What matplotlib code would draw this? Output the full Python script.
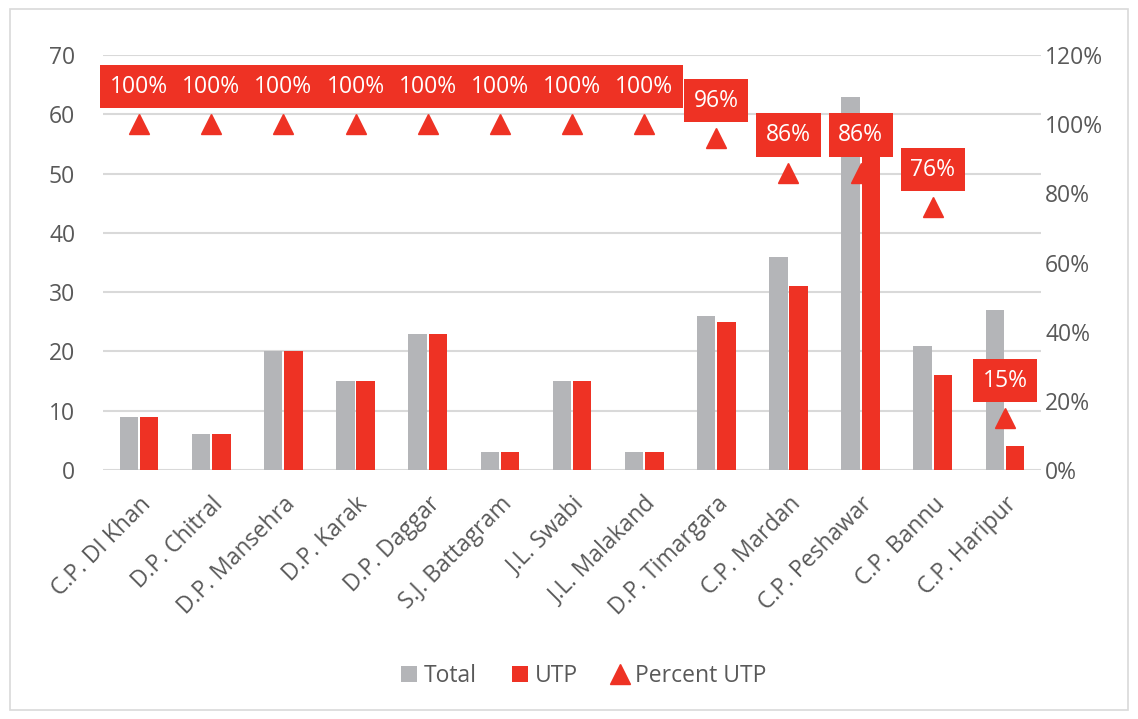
import matplotlib
matplotlib.use('Agg')
import matplotlib.pyplot as plt
import numpy as np
from matplotlib.patches import Patch, Rectangle
from matplotlib.lines import Line2D

plt.rcParams['font.family'] = ['Open Sans', 'DejaVu Sans']

# data
categories = ['C.P. DI Khan', 'D.P. Chitral', 'D.P. Mansehra', 'D.P. Karak',
              'D.P. Daggar', 'S.J. Battagram', 'J.L. Swabi', 'J.L. Malakand',
              'D.P. Timargara', 'C.P. Mardan', 'C.P. Peshawar', 'C.P. Bannu',
              'C.P. Haripur']
total = [9, 6, 20, 15, 23, 3, 15, 3, 26, 36, 63, 21, 27]
utp = [9, 6, 20, 15, 23, 3, 15, 3, 25, 31, 54, 16, 4]
pct_utp = [1.00, 1.00, 1.00, 1.00, 1.00, 1.00, 1.00, 1.00, 0.96, 0.86, 0.86, 0.76, 0.15]

grey = '#b4b5b8'
red = '#ee3224'
txt = '#595959'
grid_c = '#d9d9d9'
fs = 16.5

fig = plt.figure(figsize=(11.38, 7.19), dpi=100)
fig.patches.append(Rectangle((0.009, 0.012), 0.982, 0.975, transform=fig.transFigure,
                             fill=False, edgecolor=grid_c, linewidth=1.2))

ax = fig.add_axes([0.0905, 0.3463, 0.8243, 0.5772])
ax2 = ax.twinx()

x = np.arange(len(categories))
w = 0.255
ax.bar(x - w / 2 - 0.013, total, width=w, color=grey, zorder=2)
ax.bar(x + w / 2 + 0.013, utp, width=w, color=red, zorder=2)

ax.set_xlim(-0.5, len(categories) - 0.5)
ax.set_ylim(0, 70)
ax.set_yticks(range(0, 71, 10))
ax.yaxis.grid(True, color=grid_c, linewidth=1.5, zorder=0)
ax.set_axisbelow(True)
for s in ax.spines.values():
    s.set_visible(False)
for s in ax2.spines.values():
    s.set_visible(False)
ax.tick_params(axis='both', length=0, labelsize=fs, labelcolor=txt)
ax.tick_params(axis='y', pad=20)
ax.tick_params(axis='x', pad=16)
ax.set_xticks(x)
ax.set_xticklabels(categories, rotation=45, ha='right', rotation_mode='anchor')

ax2.set_ylim(0, 1.2)
ax2.set_yticks(np.arange(0, 1.21, 0.2))
ax2.set_yticklabels([f'{int(round(v * 100))}%' for v in np.arange(0, 1.21, 0.2)])
ax2.tick_params(axis='y', length=0, labelsize=fs, labelcolor=txt, pad=3)

ax2.plot(x, pct_utp, linestyle='none', marker='^', markersize=14, color=red, zorder=3)
for xi, p in zip(x, pct_utp):
    ax2.annotate(f'{int(round(p * 100))}%', (xi, p), xytext=(0, 27),
                 textcoords='offset points', ha='center', va='center',
                 fontsize=fs, color='white', zorder=5,
                 bbox=dict(boxstyle='square,pad=0.42', facecolor=red, edgecolor='none'))

handles = [Patch(facecolor=grey, edgecolor='none', label='Total'),
           Patch(facecolor=red, edgecolor='none', label='UTP'),
           Line2D([], [], linestyle='none', marker='^', markersize=14, color=red,
                  label='Percent UTP')]
fig.legend(handles=handles, loc='center', bbox_to_anchor=(0.513, 0.06), ncol=3,
           frameon=False, fontsize=fs, labelcolor=txt, handlelength=0.7,
           handletextpad=0.3, columnspacing=1.5)

fig.savefig('out.png', dpi=100, facecolor='white')
